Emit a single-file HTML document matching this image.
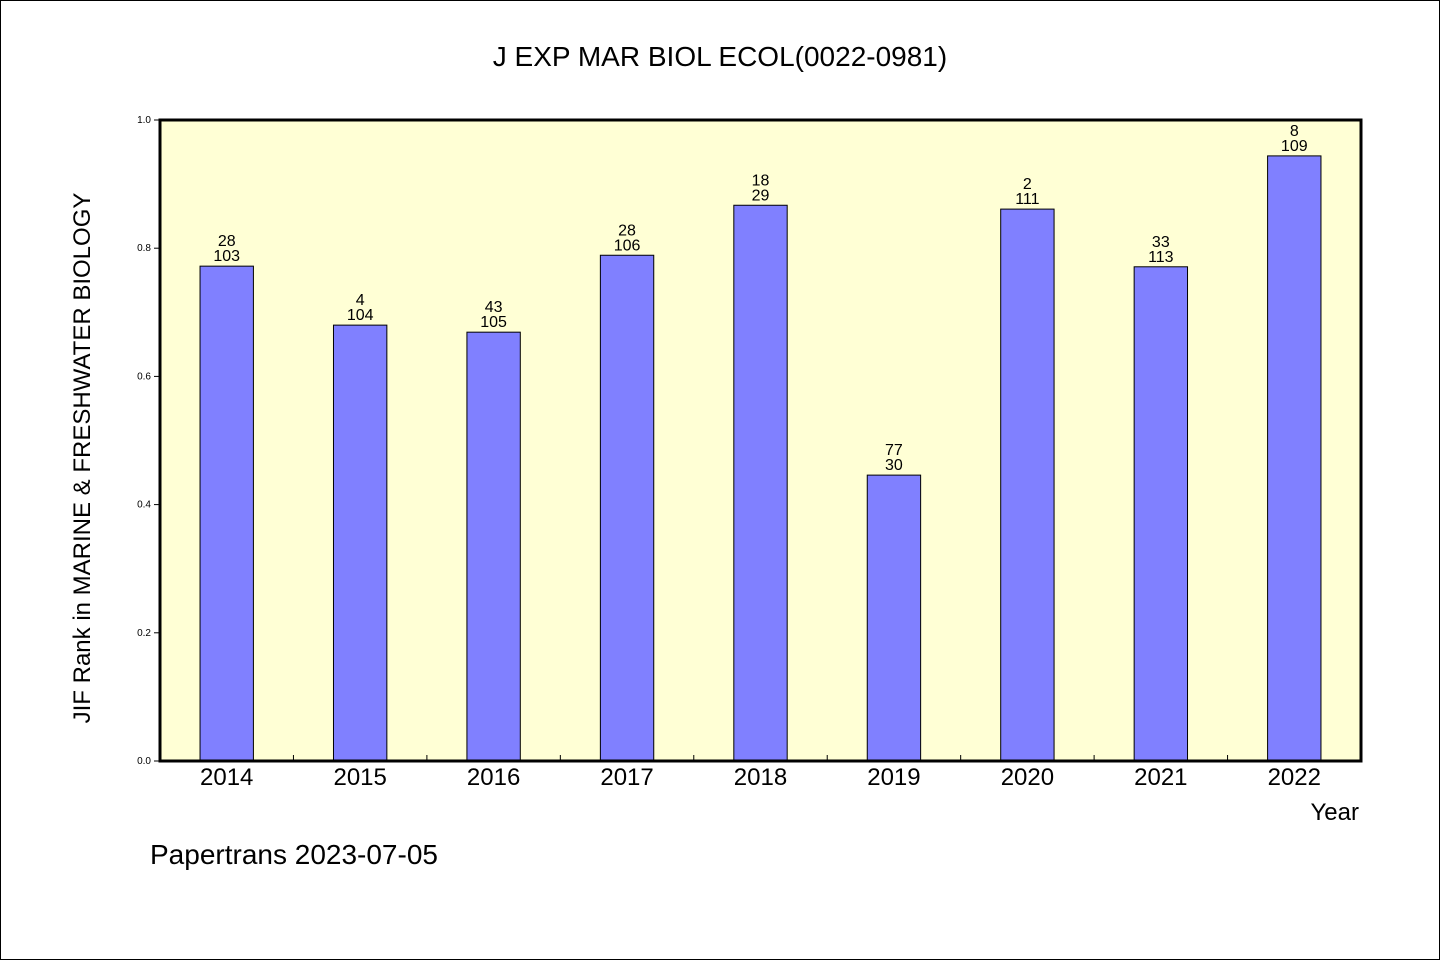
<!DOCTYPE html>
<html><head><meta charset="utf-8"><style>
body{margin:0;background:#fff}
svg{display:block}
text{font-family:"WenQuanYi Zen Hei","Liberation Sans",sans-serif;fill:#000}
</style></head><body>
<svg width="1440" height="960">
<rect x="0.5" y="0.5" width="1439" height="959" fill="#fff" stroke="#000"/>
<text x="720" y="66" font-size="28" text-anchor="middle">J EXP MAR BIOL ECOL(0022-0981)</text>
<rect x="160" y="120" width="1201" height="641" fill="#ffffd5"/>
<g id="bars"></g>
<rect x="160" y="120" width="1201" height="641" fill="none" stroke="#000" stroke-width="3"/>
<g id="axes"></g>
<text x="90" y="458" font-size="24" text-anchor="middle" transform="rotate(-90 90 458)">JIF Rank in MARINE &amp; FRESHWATER BIOLOGY</text>
<text x="1359" y="820" font-size="24" text-anchor="end">Year</text>
<text x="150" y="864" font-size="28">Papertrans 2023-07-05</text>
</svg>
<script>
const years=["2014","2015","2016","2017","2018","2019","2020","2021","2022"];
const values=[0.772,0.680,0.669,0.789,0.867,0.446,0.861,0.771,0.944];
const ranks=["28","4","43","28","18","77","2","33","8"];
const totals=["103","104","105","106","29","30","111","113","109"];
const yTicks=[0,0.2,0.4,0.6,0.8,1.0];
const X0=160,W=1201,Y0=761,H=641;
const band=W/years.length;
const xc=i=>X0+band*(i+0.5);
const y=v=>Y0-v*H;
const NS="http://www.w3.org/2000/svg";
const bars=document.getElementById('bars'),axes=document.getElementById('axes');
function mk(tag,attrs,parent,txt){const e=document.createElementNS(NS,tag);for(const k in attrs)e.setAttribute(k,attrs[k]);if(txt!==undefined)e.textContent=txt;parent.appendChild(e);return e;}
years.forEach((yr,i)=>{
 const bw=band*0.4;
 const r=mk('rect',{x:xc(i)-bw/2,y:y(values[i]),width:bw,height:values[i]*H,fill:'#8080ff',stroke:'#000','stroke-width':1},bars);
 
 
 const t1=mk('text',{x:xc(i),y:y(values[i])-20,'font-size':16,'text-anchor':'middle'},bars,ranks[i]);
 
 
 const t2=mk('text',{x:xc(i),y:y(values[i])-5,'font-size':16,'text-anchor':'middle'},bars,totals[i]);
 
 
 const xl=mk('text',{x:xc(i),y:785,'font-size':24,'text-anchor':'middle'},axes,yr);
 
 
 if(i>0){const tk=mk('line',{x1:X0+band*i,x2:X0+band*i,y1:Y0,y2:Y0-6,stroke:'#000'},axes);
 
 }
});
yTicks.forEach(v=>{
 const tk=mk('line',{x1:X0-6,x2:X0,y1:y(v),y2:y(v),stroke:'#000'},axes);
 
 
 const tl=mk('text',{x:X0-9,y:y(v)+3,'font-size':10,'text-anchor':'end'},axes,v.toFixed(1));
 
 
});
</script>
</body></html>
